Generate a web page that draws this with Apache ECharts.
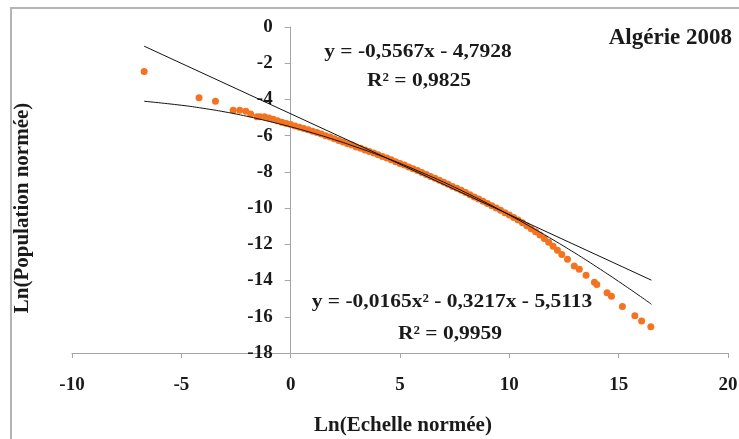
<!DOCTYPE html>
<html>
<head>
<meta charset="utf-8">
<script src="https://cdn.jsdelivr.net/npm/echarts@6/dist/echarts.min.js"></script>
<style>
  html, body { margin: 0; padding: 0; background: #fff; }
  #chart { width: 739px; height: 439px; }
</style>
</head>
<body>
<div id="chart"></div>
<script>
const scatterX = [
  -6.70, -4.19, -3.44, -2.63, -2.33, -2.05, -1.83, -1.54, -1.40,
  -1.2, -1.0, -0.8, -0.6, -0.4, -0.2, 0.0, 0.2, 0.4, 0.6, 0.8, 1.0, 1.2, 1.4, 1.6, 1.8,
  2.0, 2.2, 2.4, 2.6, 2.8, 3.0, 3.2, 3.4, 3.6, 3.8, 4.0, 4.2, 4.4, 4.6, 4.8,
  5.0, 5.2, 5.4, 5.6, 5.8, 6.0, 6.2, 6.4, 6.6, 6.8, 7.0, 7.2, 7.4, 7.6, 7.8,
  8.0, 8.2, 8.4, 8.6, 8.8, 9.0, 9.2, 9.4, 9.6, 9.8, 10.0, 10.2, 10.4, 10.6, 10.8,
  11.0, 11.2, 11.4, 11.6, 11.8, 12.0, 12.2, 12.4,
  12.66, 12.97, 13.20, 13.51, 13.89, 14.00, 14.47, 14.67, 15.17, 15.74, 16.05, 16.47
]
const scatterY = [
  -2.46, -3.90, -4.10, -4.60, -4.60, -4.65, -4.80, -4.95, -4.95,
  -4.95, -5.03, -5.10, -5.17, -5.26, -5.33, -5.39, -5.46, -5.53, -5.60, -5.68, -5.75, -5.83, -5.91, -6.00, -6.08,
  -6.17, -6.26, -6.35, -6.44, -6.52, -6.62, -6.70, -6.79, -6.88, -6.96, -7.05, -7.15, -7.24, -7.33, -7.44,
  -7.53, -7.62, -7.73, -7.83, -7.93, -8.03, -8.14, -8.25, -8.35, -8.46, -8.57, -8.68, -8.80, -8.91, -9.02,
  -9.14, -9.26, -9.38, -9.50, -9.62, -9.74, -9.87, -9.99, -10.12, -10.25, -10.38, -10.52, -10.66, -10.81, -10.97,
  -11.14, -11.31, -11.49, -11.68, -11.88, -12.10, -12.33, -12.56,
  -12.82, -13.19, -13.38, -13.71, -14.09, -14.22, -14.68, -14.87, -15.43, -15.95, -16.23, -16.55
]

// linear trend line ends
const linX = [-6.7, 16.5]
const linY = [-1.06, -13.98]

// polynomial trend line
const polyX = [-6.7, -5, -4, -3, -2, -1, 0, 1, 2, 3, 4, 5, 6, 7, 8, 9, 10, 11, 12, 13, 14, 15, 16, 16.5]
const polyY = [-4.10, -4.32, -4.49, -4.69, -4.93, -5.21, -5.51, -5.85, -6.22, -6.63, -7.06, -7.53, -8.04, -8.57, -9.14, -9.74, -10.38, -11.05, -11.75, -12.48, -13.25, -14.05, -14.88, -15.31]

const xTicks = { min: -10, max: 20, step: 5 }
const yTicks = { min: -18, max: 0, step: 2 }

const serif = '"Liberation Serif", "Times New Roman", serif'

// grid box in pixels; the y axis is pushed right to sit on x = 0
const gridLeft = 72
const gridRight = 11
const yAxisShift = (0 - xTicks.min) / (xTicks.max - xTicks.min) * (739 - gridLeft - gridRight)

const chart = echarts.init(document.getElementById('chart'), null, { renderer: 'canvas' })

const eqText = (txt, x, y) => ({
  type: 'text',
  x: x,
  y: y,
  scaleX: 1.13,
  style: {
    text: txt,
    font: 'bold 19px ' + serif,
    fill: '#1a1a1a',
    textAlign: 'center',
    textVerticalAlign: 'middle'
  }
})

chart.setOption({
  animation: false,
  title: {
    text: 'Algérie 2008',
    right: 2,
    top: 22,
    textStyle: { fontFamily: serif, fontWeight: 'bold', fontSize: 23, color: '#1a1a1a' }
  },
  grid: { left: gridLeft, right: gridRight, top: 27, bottom: 86, containLabel: false, outerBoundsMode: 'none' },
  xAxis: {
    type: 'value',
    min: xTicks.min,
    max: xTicks.max,
    interval: xTicks.step,
    name: 'Ln(Echelle normée)',
    nameLocation: 'middle',
    nameGap: 62,
    nameTextStyle: { fontFamily: serif, fontWeight: 'bold', fontSize: 21, color: '#1a1a1a', padding: [0, 0, 0, 6] },
    axisLine: { onZero: false, lineStyle: { color: '#a6a6a6', width: 1 } },
    axisTick: { show: true, length: 5, lineStyle: { color: '#a6a6a6' } },
    axisLabel: { margin: 23, fontFamily: serif, fontWeight: 'bold', fontSize: 19, color: '#1a1a1a' },
    splitLine: { show: false }
  },
  yAxis: {
    type: 'value',
    min: yTicks.min,
    max: yTicks.max,
    interval: yTicks.step,
    offset: -yAxisShift,
    name: 'Ln(Population normée)',
    nameLocation: 'middle',
    nameRotate: 90,
    nameGap: 258,
    nameTextStyle: { fontFamily: serif, fontWeight: 'bold', fontSize: 21, color: '#1a1a1a', padding: [0, 36, 0, 0] },
    axisLine: { onZero: false, lineStyle: { color: '#a6a6a6', width: 1 } },
    axisTick: { show: true, length: 6, lineStyle: { color: '#a6a6a6' } },
    axisLabel: { margin: 18, fontFamily: serif, fontWeight: 'bold', fontSize: 19, color: '#1a1a1a' },
    splitLine: { show: false }
  },
  graphic: [
    {
      type: 'rect',
      shape: { x: 11, y: 8, width: 800, height: 500 },
      style: { fill: 'none', stroke: '#b4b4b4', lineWidth: 2 },
      silent: true
    },
    eqText('y = -0,5567x - 4,7928', 418, 52),
    eqText('R² = 0,9825', 419, 81),
    eqText('y = -0,0165x² - 0,3217x - 5,5113', 452, 302),
    eqText('R² = 0,9959', 450, 334)
  ],
  series: [
    {
      type: 'scatter',
      data: scatterX.map((x, i) => [x, scatterY[i]]),
      symbolSize: 7,
      itemStyle: { color: '#f47321', opacity: 1 },
      z: 2
    },
    {
      type: 'line',
      data: linX.map((x, i) => [x, linY[i]]),
      showSymbol: false,
      lineStyle: { color: '#111', width: 1 },
      z: 3
    },
    {
      type: 'line',
      data: polyX.map((x, i) => [x, polyY[i]]),
      smooth: true,
      showSymbol: false,
      lineStyle: { color: '#111', width: 1 },
      z: 3
    }
  ]
})

window.addEventListener('resize', () => chart.resize())
</script>
</body>
</html>
